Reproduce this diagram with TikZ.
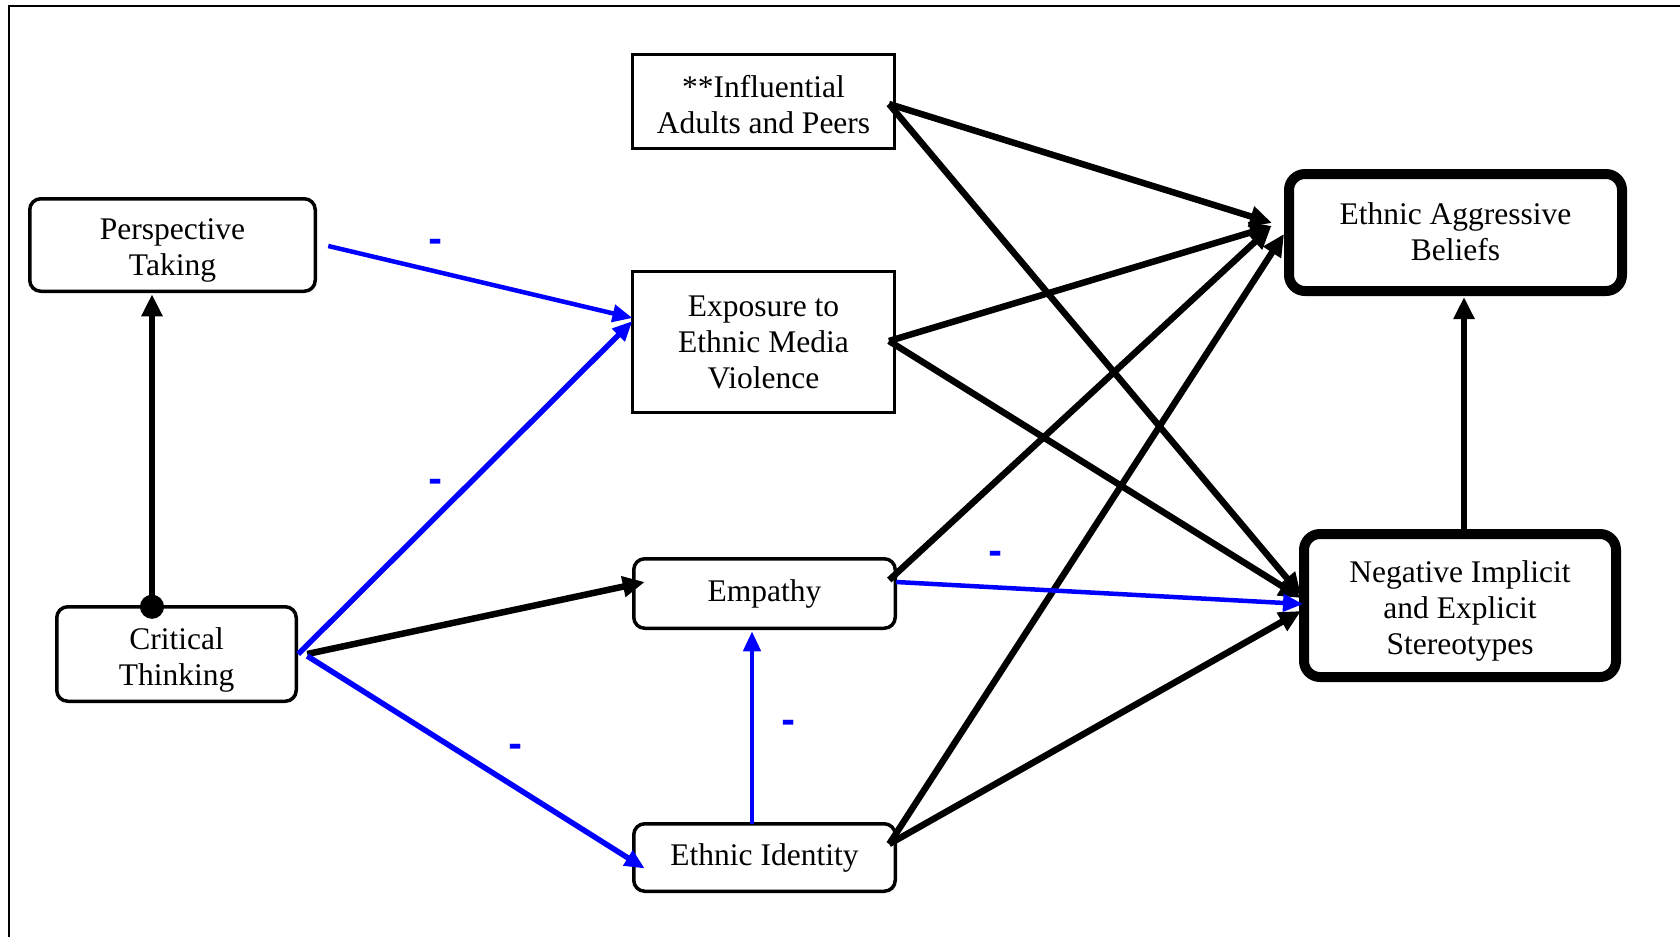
\documentclass[tikz,border=0pt]{standalone}
\usepackage{fontspec}
\setmainfont{Liberation Serif}
\newfontfamily\dashfont{DejaVu Sans}
\usetikzlibrary{arrows.meta,calc}
\begin{document}
\begin{tikzpicture}[x=1pt,y=-1pt,
  every node/.style={font=\fontsize{31.5}{36}\selectfont, align=center, inner sep=0pt, outer sep=0pt},
  sqbox/.style={draw, line width=3pt, minimum width=262pt},
  rbox/.style={draw, line width=3.5pt, rounded corners=11pt},
  bigbox/.style={draw, line width=10pt, rounded corners=16pt},
  txt/.style={},
  blk/.style={line width=6.5pt, -{Triangle[length=22pt,width=20pt]}},
  blu/.style={draw=blue, line width=5.5pt, -{Triangle[length=20pt,width=17pt]}},
  neg/.style={text=blue, font=\dashfont\fontsize{34}{34}\selectfont\bfseries}
]
\useasboundingbox (0,0) rectangle (1680,937);
% frame
\draw[line width=2.5pt] (9,6) -- (1680,6);
\draw[line width=1.5pt] (9,5) -- (9,937);

% boxes
\node[sqbox, minimum height=94pt] (infl) at (763.5,101.5) {};
\node[txt] (inflT) at ($(infl.center)+(0,3)$) {**Influential\\Adults and Peers};

\node[rbox, minimum width=285.5pt, minimum height=92.5pt] (persp) at (172.5,245) {};
\node[txt] (perspT) at ($(persp.center)+(0,5)$) {Perspective\\Taking};

\node[sqbox, minimum height=141pt] (expo) at (763.5,342) {};
\node[txt] (expoT) at (expo.center) {Exposure to\\Ethnic Media\\Violence};

\node[bigbox, minimum width=333pt, minimum height=117pt] (eab) at (1455.5,232.5) {};
\node[txt] (eabT) at ($(eab.center)+(0,-1)$) {Ethnic Aggressive\\Beliefs};

\node[bigbox, minimum width=312pt, minimum height=143pt] (neg) at (1460,605.5) {};
\node[txt] (negT) at ($(neg.center)+(0,5)$) {Negative Implicit\\and Explicit\\Stereotypes};

\node[rbox, minimum width=239.5pt, minimum height=94.5pt] (crit) at (176.5,654) {};
\node[txt] (critT) at ($(crit.center)+(0,6)$) {Critical\\Thinking};

\node[rbox, minimum width=261.5pt, minimum height=69.5pt] (emp) at (764.5,593.5) {};
\node[txt] (empT) at (emp.center) {Empathy};

\node[rbox, minimum width=261.5pt, minimum height=67.5pt] (ident) at (764.5,857.5) {};
\node[txt] (identT) at (ident.center) {Ethnic Identity};

% black connectors
\draw[blk, {Circle[length=24pt]}-{Triangle[length=22pt,width=20pt]}]
  ($(crit.north)+(-24.5,12)$) -- ($(persp.south)+(-20.5,3)$);
\draw[blk] ($(crit.east)+(11,0)$) -- ($(emp.west)+(11,-11.5)$);
\draw[blk] ($(infl.east)+(-5.5,2.5)$) -- ($(eab.west)+(-17,-9.5)$);
\draw[blk] ($(infl.east)+(-5.5,2.5)$) -- ($(neg.west)+(-3,-10.5)$);
\draw[blk] ($(expo.east)+(-5.5,-1)$) -- ($(eab.west)+(-17,-6.5)$);
\draw[blk] ($(expo.east)+(-5.5,-1)$) -- ($(neg.west)+(-3,-7.5)$);
\draw[blk] ($(emp.east)+(-6,-13.5)$) -- ($(eab.west)+(-18,-5.5)$);
\draw[blk] ($(ident.east)+(-6,-13.5)$) -- ($(eab.west)+(-5,1.5)$);
\draw[blk] ($(ident.east)+(-6,-13.5)$) -- ($(neg.west)+(-3,5.5)$);
\draw[blk] ($(neg.north)+(4,0)$) -- ($(eab.south)+(8.5,6)$);

% blue connectors
\draw[blu, line width=4.5pt] ($(persp.east)+(13,1)$) -- ($(expo.west)+(0,-24)$);
\draw[blu] ($(crit.east)+(2,0)$) -- ($(expo.west)+(0,-21)$);
\draw[blu] ($(crit.east)+(11,2)$) -- ($(ident.west)+(11,11)$);
\draw[blu, line width=4.5pt] ($(ident.north)+(-12.5,0)$) -- ($(emp.south)+(-12.5,3)$);
\draw[blu, line width=4.5pt] ($(emp.east)+(1,-11.5)$) -- ($(neg.west)+(-1,-1.5)$);

% minus signs
\node[neg] (m1) at (436,245) {-};
\node[neg] (m2) at (436,485) {-};
\node[neg] (m3) at (516,750) {-};
\node[neg] (m4) at (789,726) {-};
\node[neg] (m5) at (996,557) {-};
\end{tikzpicture}
\end{document}
